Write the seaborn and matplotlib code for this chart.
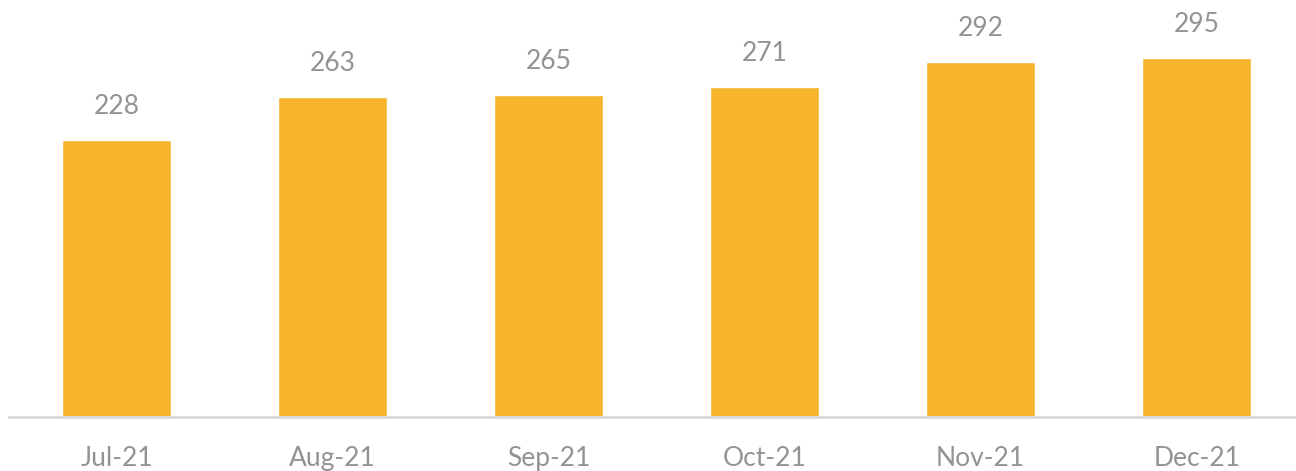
import matplotlib
matplotlib.use("Agg")
import matplotlib.pyplot as plt
import seaborn as sns
import pandas as pd

# monthly values
months = ["Jul-21", "Aug-21", "Sep-21", "Oct-21", "Nov-21", "Dec-21"]
values = [228, 263, 265, 271, 292, 295]

df = pd.DataFrame({"Month": months, "Value": values})

sns.set_style("white")
plt.rcParams["font.family"] = ["Lato", "DejaVu Sans"]

fig = plt.figure(figsize=(12.96, 4.71), dpi=100)
ax = fig.add_axes([9 / 1296, 54 / 471, 1 - 9 / 1296, 417 / 471])

sns.barplot(data=df, x="Month", y="Value", color="#F7B52C", width=0.505,
            saturation=1, ax=ax)

for i, v in enumerate(values):
    ax.annotate(str(v), (i, v), xytext=(0, 15), textcoords="offset points",
                ha="center", va="bottom", fontsize=19, color="#939393")

ax.set_xlim(-0.498, 5.46)
ax.set_ylim(0, 342.7)
ax.set_xlabel("")
ax.set_ylabel("")
ax.set_yticks([])
ax.tick_params(axis="x", length=0, pad=21, labelsize=19, labelcolor="#939393")
for s in ["top", "right", "left"]:
    ax.spines[s].set_visible(False)
ax.spines["bottom"].set_color("#d9d9d9")
ax.spines["bottom"].set_linewidth(2)

fig.savefig("out.png", dpi=100)
